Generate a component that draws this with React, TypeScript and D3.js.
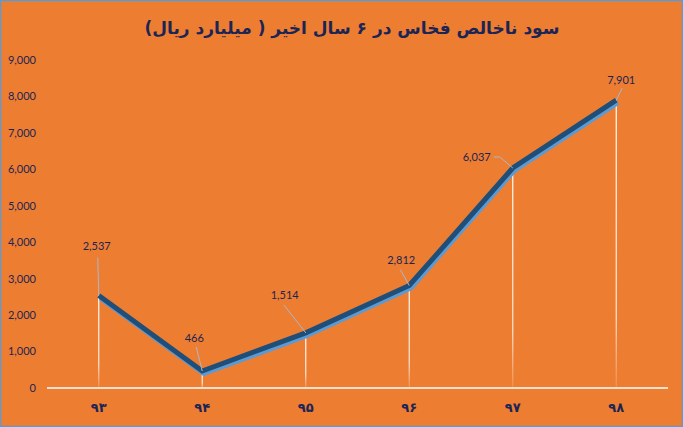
import React from 'react';
import * as d3 from 'd3';

const W = 683;
const H = 427;

// years (Persian digits) and gross profit, billion rials
const years = ['۹۳', '۹۴', '۹۵', '۹۶', '۹۷', '۹۸'];
const profit = [2537, 466, 1514, 2812, 6037, 7901];
const yTicks = [0, 1000, 2000, 3000, 4000, 5000, 6000, 7000, 8000, 9000];

const TITLE = 'سود ناخالص فخاس در ۶ سال اخیر ( میلیارد  ریال)';

// label placement relative to its point: label centre, leader start, optional elbow
const labelPos = [
  { dx: -2, dy: -49, lx: -1, ly: -38 },
  { dx: -8, dy: -33, lx: -6, ly: -24 },
  { dx: -21, dy: -38, lx: -22, ly: -28 },
  { dx: -8, dy: -25, lx: -9, ly: -16 },
  { dx: -36, dy: -11, lx: -19, ly: -11, ex: -13, ey: -11 },
  { dx: 5, dy: -20, lx: 6, ly: -12 },
];

const NAVY = '#1b2555';
const TICK_FONT = 'Lato, "Liberation Sans", sans-serif';

export default function App() {
  const margin = { left: 47, right: 15, top: 60, bottom: 39 };
  const x = d3
    .scaleBand()
    .domain(years)
    .range([margin.left, W - margin.right]);
  const y = d3
    .scaleLinear()
    .domain([0, 9000])
    .range([H - margin.bottom, margin.top]);

  const cx = (i: number) => (x(years[i]) as number) + x.bandwidth() / 2;
  const pts: [number, number][] = profit.map((v, i) => [cx(i), y(v)]);
  const line = d3.line();
  const fmt = d3.format(',');

  return (
    <svg
      width={W}
      height={H}
      style={{ position: 'absolute', left: 0, top: 0 }}
    >
      <defs>
        <linearGradient id="drop" x1="0" y1="0" x2="0" y2="1">
          <stop offset="0" stopColor="#fff" stopOpacity="1" />
          <stop offset="0.75" stopColor="#fff" stopOpacity="0.8" />
          <stop offset="1" stopColor="#fff" stopOpacity="0.15" />
        </linearGradient>
      </defs>
      <rect x={0.5} y={0.5} width={W - 1} height={H - 1} fill="#ed7d31" stroke="#5b9bd5" strokeWidth={1.5} />

      <text
        x={352}
        y={34}
        direction="rtl"
        textAnchor="middle"
        fontFamily='"DejaVu Sans", sans-serif'
        fontWeight="bold"
        fontSize={17}
        fill={NAVY}
      >
        {TITLE}
      </text>

      {/* y tick labels */}
      {yTicks.map((t) => (
        <text
          key={t}
          x={36}
          y={y(t)}
          dy="0.35em"
          textAnchor="end"
          fontFamily={TICK_FONT}
          fontSize={11}
          fill={NAVY}
        >
          {fmt(t)}
        </text>
      ))}

      {/* drop lines */}
      {pts.map(([px, py], i) => (
        <rect
          key={i}
          x={px - 0.6}
          y={py}
          width={1.2}
          height={y(0) - py}
          fill="url(#drop)"
        />
      ))}

      {/* x axis */}
      <line x1={margin.left} x2={W - margin.right} y1={y(0)} y2={y(0)} stroke="#fff" strokeWidth={1.5} />
      {years.map((yr, i) => (
        <text
          key={yr}
          x={cx(i)}
          y={412}
          textAnchor="middle"
          fontFamily='"DejaVu Sans", sans-serif'
          fontWeight="bold"
          fontSize={13}
          fill={NAVY}
        >
          {yr}
        </text>
      ))}

      {/* line with shadow */}
      <path
        d={line(pts) || ''}
        transform="translate(1.5,2.5)"
        fill="none"
        stroke="#5b9bd5"
        strokeWidth={5}
        strokeLinejoin="round"
      />
      <path d={line(pts) || ''} fill="none" stroke="#1f4e79" strokeWidth={5} strokeLinejoin="miter" />

      {/* data labels with leaders */}
      {pts.map(([px, py], i) => {
        const p = labelPos[i];
        const leader: [number, number][] = [[px + p.lx, py + p.ly]];
        if (p.ex !== undefined) leader.push([px + p.ex, py + p.ey]);
        leader.push([px, py]);
        return (
          <g key={i}>
            <path d={line(leader) || ''} fill="none" stroke="#a9b8cc" strokeWidth={1} />
            <text
              x={px + p.dx}
              y={py + p.dy}
              dy="0.35em"
              textAnchor="middle"
              fontFamily={TICK_FONT}
              fontSize={11}
              fill={NAVY}
            >
              {fmt(profit[i])}
            </text>
          </g>
        );
      })}
    </svg>
  );
}
